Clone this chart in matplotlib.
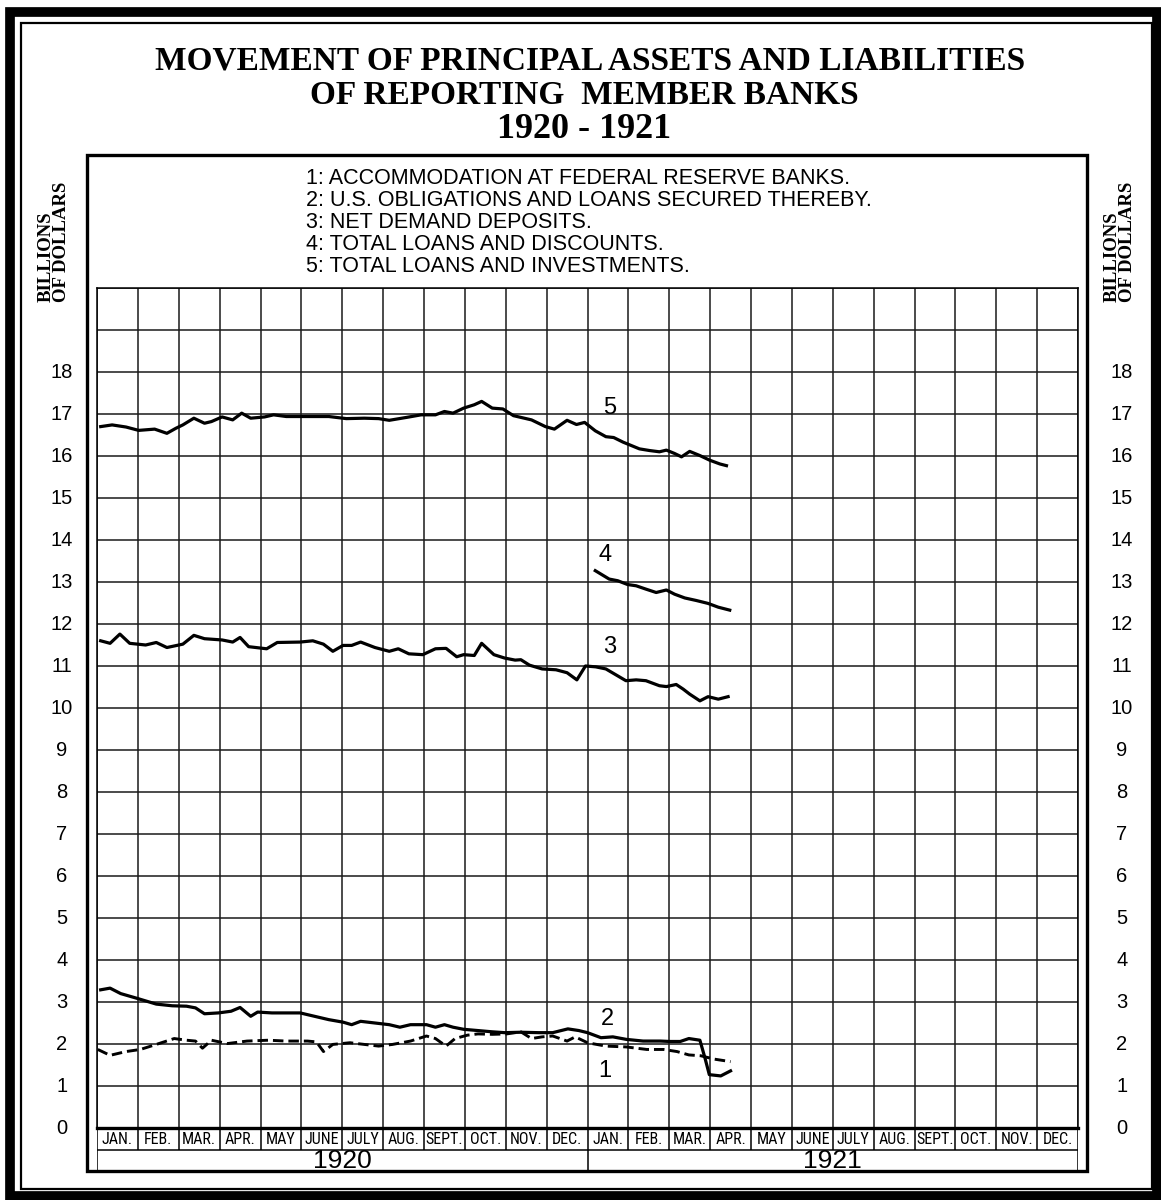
import matplotlib

matplotlib.use("Agg")
import matplotlib.pyplot as plt
from matplotlib import font_manager
from matplotlib.patches import Rectangle
from matplotlib.transforms import blended_transform_factory

# ---- data (x = months since Jan 1920, y = billions of dollars) ----
MONTHS = ["JAN.", "FEB.", "MAR.", "APR.", "MAY", "JUNE", "JULY", "AUG.",
          "SEPT.", "OCT.", "NOV.", "DEC."]
YEARS = ["1920", "1921"]

s5_x = [0.09, 0.37, 0.71, 1.02, 1.41, 1.71, 1.93, 2.10, 2.37, 2.63, 2.80, 3.06,
        3.32, 3.54, 3.76, 4.10, 4.32, 4.63, 5.15, 5.67, 6.10, 6.54, 6.89, 7.15,
        7.58, 7.93, 8.28, 8.50, 8.71, 8.97, 9.23, 9.41, 9.67, 9.93, 10.19, 10.63,
        10.97, 11.19, 11.50, 11.73, 11.93, 12.19, 12.45, 12.64, 12.87, 13.02,
        13.27, 13.52, 13.76, 13.93, 14.13, 14.30, 14.50, 14.75, 14.99, 15.24, 15.40]
s5_y = [16.70, 16.74, 16.69, 16.61, 16.64, 16.54, 16.66, 16.74, 16.90, 16.78, 16.82,
        16.93, 16.86, 17.02, 16.90, 16.93, 16.98, 16.94, 16.94, 16.94, 16.89, 16.90,
        16.89, 16.85, 16.92, 16.98, 16.98, 17.06, 17.02, 17.14, 17.22, 17.30, 17.14,
        17.12, 16.96, 16.86, 16.70, 16.64, 16.85, 16.75, 16.80, 16.60, 16.46, 16.44,
        16.33, 16.27, 16.17, 16.13, 16.10, 16.14, 16.06, 15.98, 16.11, 16.01, 15.90,
        15.81, 15.77]

s4_x = [12.19, 12.53, 12.74, 12.98, 13.19, 13.43, 13.68, 13.93, 14.13, 14.38,
        14.66, 14.95, 15.20, 15.48]
s4_y = [13.27, 13.07, 13.03, 12.94, 12.91, 12.83, 12.75, 12.81, 12.71, 12.62,
        12.56, 12.49, 12.40, 12.33]

s3_x = [0.09, 0.32, 0.56, 0.80, 1.19, 1.45, 1.71, 2.10, 2.37, 2.63, 3.06, 3.32,
        3.50, 3.71, 4.15, 4.41, 4.97, 5.28, 5.54, 5.77, 6.02, 6.23, 6.45, 6.80,
        7.15, 7.37, 7.63, 7.97, 8.28, 8.54, 8.80, 8.97, 9.23, 9.41, 9.71, 9.97,
        10.23, 10.37, 10.58, 10.89, 11.23, 11.50, 11.74, 11.95, 12.20, 12.45,
        12.66, 12.94, 13.19, 13.43, 13.76, 13.93, 14.17, 14.34, 14.50, 14.75,
        14.95, 15.20, 15.44]
s3_y = [11.60, 11.54, 11.76, 11.54, 11.50, 11.56, 11.44, 11.52, 11.73, 11.65,
        11.62, 11.57, 11.68, 11.46, 11.41, 11.56, 11.57, 11.60, 11.52, 11.35,
        11.49, 11.49, 11.57, 11.44, 11.35, 11.41, 11.29, 11.27, 11.41, 11.42,
        11.22, 11.27, 11.25, 11.54, 11.27, 11.19, 11.14, 11.15, 11.02, 10.93,
        10.91, 10.84, 10.67, 11.00, 10.98, 10.93, 10.81, 10.65, 10.67, 10.65,
        10.53, 10.51, 10.56, 10.45, 10.33, 10.17, 10.27, 10.21, 10.27]

s2_x = [0.09, 0.32, 0.58, 0.97, 1.45, 1.84, 2.19, 2.41, 2.63, 2.97, 3.28, 3.50,
        3.76, 3.93, 4.28, 4.97, 5.32, 5.67, 6.02, 6.23, 6.45, 6.80, 7.15, 7.41,
        7.67, 8.06, 8.28, 8.50, 8.71, 8.97, 9.32, 9.67, 9.97, 10.37, 10.80, 11.15,
        11.52, 11.79, 12.00, 12.33, 12.62, 12.95, 13.36, 13.78, 14.02, 14.27,
        14.48, 14.75, 14.87, 14.98, 15.26, 15.50]
s2_y = [3.29, 3.33, 3.20, 3.09, 2.95, 2.91, 2.90, 2.86, 2.72, 2.74, 2.78, 2.87,
        2.66, 2.76, 2.74, 2.74, 2.66, 2.58, 2.52, 2.46, 2.54, 2.50, 2.46, 2.40,
        2.46, 2.46, 2.40, 2.46, 2.40, 2.35, 2.32, 2.29, 2.27, 2.28, 2.27, 2.27,
        2.36, 2.32, 2.27, 2.15, 2.17, 2.11, 2.07, 2.07, 2.06, 2.06, 2.13, 2.09,
        1.68, 1.27, 1.24, 1.36]

s1_x = [0.02, 0.32, 0.71, 1.06, 1.45, 1.89, 2.19, 2.41, 2.58, 2.80, 3.19, 3.67,
        4.19, 4.63, 5.15, 5.37, 5.54, 5.77, 6.19, 6.54, 6.89, 7.23, 7.67, 8.06,
        8.28, 8.54, 8.76, 9.06, 9.32, 9.67, 10.02, 10.37, 10.63, 10.89, 11.15,
        11.50, 11.70, 12.00, 12.45, 12.95, 13.45, 13.86, 14.19, 14.48, 14.77,
        15.10, 15.50]
s1_y = [1.87, 1.73, 1.82, 1.87, 1.99, 2.13, 2.09, 2.07, 1.90, 2.09, 2.01, 2.07,
        2.09, 2.07, 2.07, 2.05, 1.82, 1.99, 2.03, 1.99, 1.95, 1.99, 2.07, 2.19,
        2.13, 1.95, 2.13, 2.21, 2.24, 2.23, 2.24, 2.29, 2.13, 2.17, 2.19, 2.07,
        2.17, 2.03, 1.95, 1.93, 1.87, 1.87, 1.82, 1.74, 1.72, 1.64, 1.58]

LEGEND = ["1: ACCOMMODATION AT FEDERAL RESERVE BANKS.",
          "2: U.S. OBLIGATIONS AND LOANS SECURED THEREBY.",
          "3: NET DEMAND DEPOSITS.",
          "4: TOTAL LOANS AND DISCOUNTS.",
          "5: TOTAL LOANS AND INVESTMENTS."]
# series number -> (x, y) where its tag is written
TAGS = {"5": (12.55, 17.15), "4": (12.42, 13.65), "3": (12.55, 11.45),
        "2": (12.48, 2.6), "1": (12.43, 1.35)}

W, H = 1161, 1200
SERIF = "Liberation Serif"
SANS = "Liberation Sans"

# narrow face for the month strip, if the system happens to have one
installed = {f.name for f in font_manager.fontManager.ttflist}
NARROW = SANS
for cand in ("Liberation Sans Narrow", "Roboto Condensed", "Open Sans Condensed",
             "Noto Sans Condensed", "DejaVu Sans Condensed"):
    if cand in installed:
        NARROW = cand
        break
month_size = 11.5 if NARROW != SANS else 10

fig = plt.figure(figsize=(W / 100, H / 100), dpi=100)
fig.patch.set_facecolor("white")

# ---- overlay in pixel coordinates for borders and free text ----
over = fig.add_axes([0, 0, 1, 1], zorder=0)
over.set_xlim(0, W)
over.set_ylim(H, 0)
over.axis("off")

over.add_patch(Rectangle((10, 11.5), 1147, 1184.5, fill=False, lw=7.0, ec="black"))
over.add_patch(Rectangle((21, 23), 1131, 1166, fill=False, lw=1.6, ec="black"))
over.add_patch(Rectangle((87, 155), 1000, 1016, fill=False, lw=2.4, ec="black"))

over.text(590, 61, "MOVEMENT OF PRINCIPAL ASSETS AND LIABILITIES", family=SERIF,
          fontsize=24, fontweight="bold", ha="center", va="center")
over.text(584, 95, "OF REPORTING  MEMBER BANKS", family=SERIF,
          fontsize=24, fontweight="bold", ha="center", va="center")
over.text(584, 130, "1920 - 1921", family=SERIF,
          fontsize=26, fontweight="bold", ha="center", va="center")

for i, line in enumerate(LEGEND):
    over.text(306, 179 + i * 21.8, line, family=SANS, fontsize=15.5,
              ha="left", va="center")

for xc in (54, 1120):
    over.text(xc, 242, "BILLIONS\nOF DOLLARS", family=SERIF, fontsize=13.5,
              fontweight="bold", rotation=90, ha="center", va="center",
              multialignment="left", linespacing=0.9)

# ---- main grid ----
ax = fig.add_axes([97 / W, 1 - 1128 / H, 981 / W, 840 / H], zorder=2)
ax.patch.set_alpha(0)
ax.set_xlim(0, 24)
ax.set_ylim(0, 20)
ax.set_xticks(range(25))
ax.set_yticks(range(21))
ax.tick_params(length=0, labelleft=False, labelbottom=False)
ax.grid(True, color="#1a1a1a", lw=1.1)
for side in ("left", "right", "top"):
    ax.spines[side].set_linewidth(1.1)
ax.spines["bottom"].set_linewidth(2.4)

ax.plot(s5_x, s5_y, color="black", lw=2.3, solid_joinstyle="round")
ax.plot(s4_x, s4_y, color="black", lw=2.3, solid_joinstyle="round")
ax.plot(s3_x, s3_y, color="black", lw=2.3, solid_joinstyle="round")
ax.plot(s2_x, s2_y, color="black", lw=2.3, solid_joinstyle="round")
ax.plot(s1_x, s1_y, color="black", lw=2.1, linestyle=(0, (3.6, 1.7)))

for tag, (tx, ty) in TAGS.items():
    ax.text(tx, ty, tag, family=SANS, fontsize=17, ha="center", va="center")

# y labels on both sides
tr = blended_transform_factory(over.transData, ax.transData)
for v in range(19):
    ax.text(62, v, str(v), transform=tr, family=SANS, fontsize=14.5,
            ha="center", va="center")
    ax.text(1122, v, str(v), transform=tr, family=SANS, fontsize=14.5,
            ha="center", va="center")

# ---- month / year strip ----
bx = fig.add_axes([97 / W, 1 - 1171 / H, 981 / W, 43 / H], zorder=2)
bx.patch.set_alpha(0)
bx.set_xlim(0, 24)
bx.set_ylim(0, 2)
bx.axis("off")
bx.axhline(1, color="black", lw=1.1)
bx.axvline(0, color="black", lw=1.1)
bx.axvline(24, color="black", lw=1.1)
bx.vlines(range(1, 24), 1, 2, color="black", lw=1.1)
bx.vlines([12], 0, 1, color="black", lw=1.1)
for i in range(24):
    bx.text(i + 0.5, 1.48, MONTHS[i % 12], family=NARROW, fontsize=month_size,
            ha="center", va="center")
for j, yr in enumerate(YEARS):
    bx.text(6 + 12 * j, 0.47, yr, family=SANS, fontsize=19,
            ha="center", va="center")

fig.savefig("out.png", dpi=100, facecolor="white")
